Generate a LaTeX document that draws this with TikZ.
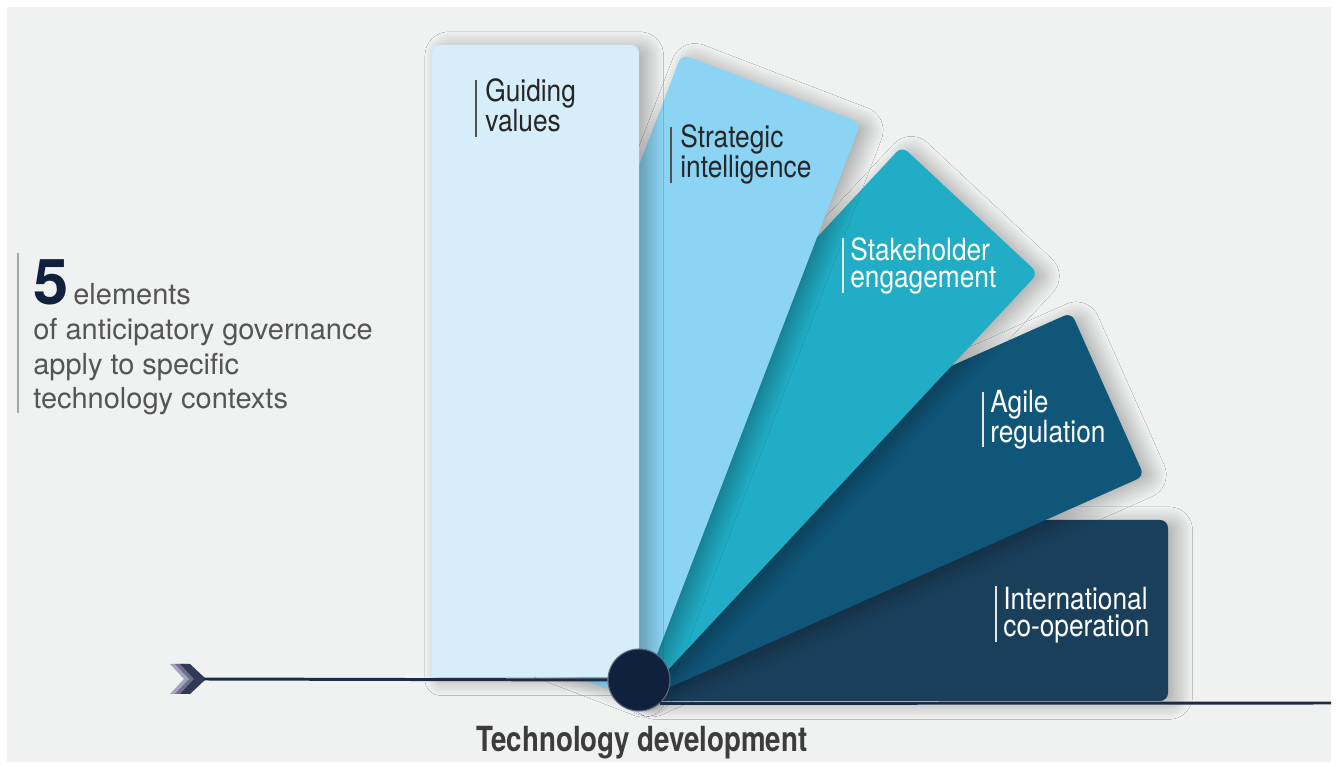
\documentclass[tikz,border=0pt]{standalone}
\usepackage{fontspec}
\setmainfont{TeX Gyre Heros}
\newfontfamily\cndfont[FakeStretch=0.86]{TeX Gyre Heros}
\newfontfamily\cndbfont[FakeStretch=0.8]{TeX Gyre Heros}
\usetikzlibrary{calc,shadows.blur}
\definecolor{bg}{HTML}{F0F1F1}
\definecolor{cA}{HTML}{D6EDFA}
\definecolor{cB}{HTML}{8BD4F4}
\definecolor{cC}{HTML}{20ADC5}
\definecolor{cD}{HTML}{105679}
\definecolor{cE}{HTML}{1A3F5B}
\definecolor{navy}{HTML}{0F213D}
\definecolor{lineC}{HTML}{1E2B44}
\definecolor{txtD}{HTML}{262626}
\definecolor{txtG}{HTML}{555555}
\definecolor{chA}{HTML}{A4A4BC}
\definecolor{chB}{HTML}{6E7090}
\definecolor{chC}{HTML}{2E3A58}
\newcommand\fancard[4]{% angle, length, width, colour
  \path[card, fill=#4] (P) -- ($(P)+({90-#1}:#2)$) -- ($(P)+({90-#1}:#2)+({180-#1}:#3)$) -- ($(P)+({180-#1}:#3)$) -- cycle;}
\begin{document}
\begin{tikzpicture}[x=0.02cm,y=0.02cm,
  card/.style={rounded corners=4.5pt, blur shadow={shadow xshift=5pt, shadow yshift=-1.5pt, shadow blur radius=9pt, shadow blur steps=30, shadow opacity=32}},
  lbl/.style={font=\cndfont\fontsize{17.4}{15.9}\selectfont, anchor=base west, align=left, inner sep=0pt},
  barD/.style={draw=txtD!80, line width=0.8pt},
  barW/.style={draw=white!80!gray, line width=0.8pt},
  tl/.style={draw=lineC, line width=1.7pt},
  chev/.style={draw=none}]
% background
\fill[white] (0,0) rectangle (1336,767);
\fill[bg] (7,5) rectangle (1331,760);
\coordinate (P) at (639,66);
% cards, back to front
\fancard{90}{529}{181}{cE}
\fancard{66}{553}{179}{cD}
\fancard{43}{585}{186}{cC}
\fancard{21}{619}{192}{cB}
\path[card, fill=cA] (432,90) [rounded corners=4.5pt] -- (432,722) -- (639,722) [sharp corners] -- (639,90) -- cycle;
% labels (anchor = baseline of last line)
\draw[barD] (476,687) -- (476,630);
\node[lbl, text=txtD] (gv) at (485,635) {Guiding\\values};
\draw[barD] (671,640) -- (671,584);
\node[lbl, text=txtD] (si) at (680,589) {Strategic\\intelligence};
\draw[barW] (843,529) -- (843,474);
\node[lbl, text=white] (se) at (850,479) {Stakeholder\\engagement};
\draw[barW] (983,375) -- (983,320);
\node[lbl, text=white] (ar) at (990,324) {Agile\\regulation};
\draw[barW] (996,181) -- (996,125);
\node[lbl, text=white] (ic) at (1003,130) {International\\co-operation};
% intro text
\draw[draw=gray!70, line width=0.8pt] (18,514) -- (18,354);
\node[anchor=base west, align=left, inner sep=0pt, text=txtG, font=\fontsize{16.5}{19.8}\selectfont] (intro) at (33,358)
  {{\fontsize{36}{36}\selectfont\bfseries\color{navy}5}\,elements\\of anticipatory governance\\apply to specific\\technology contexts};
% axis
\path[chev, fill=chA] (170,103) -- (182,103) -- (196,88) -- (182,73) -- (170,73) -- (184,88) -- cycle;
\path[chev, fill=chB] (175,103) -- (187,103) -- (201,88) -- (187,73) -- (175,73) -- (189,88) -- cycle;
\path[chev, fill=chC] (180,103) -- (190,103) -- (206,88) -- (190,73) -- (180,73) -- (194,88) -- cycle;
\coordinate (arrowtip) at (204,88);
\coordinate (rend) at (1331,64);
\node[circle, fill=navy, draw=lineC!70!white, line width=0.6pt, minimum size=1.24cm, inner sep=0pt] (hub) at (639,87) {};
\draw[tl] (arrowtip) -- (hub.west);
\draw[tl] (hub.-48) -- (rend);
\node[anchor=base, inner sep=0pt, text=txtD!90!white, font=\cndbfont\bfseries\fontsize{19.7}{20}\selectfont] (td) at (642,15) {Technology development};
\end{tikzpicture}
\end{document}
